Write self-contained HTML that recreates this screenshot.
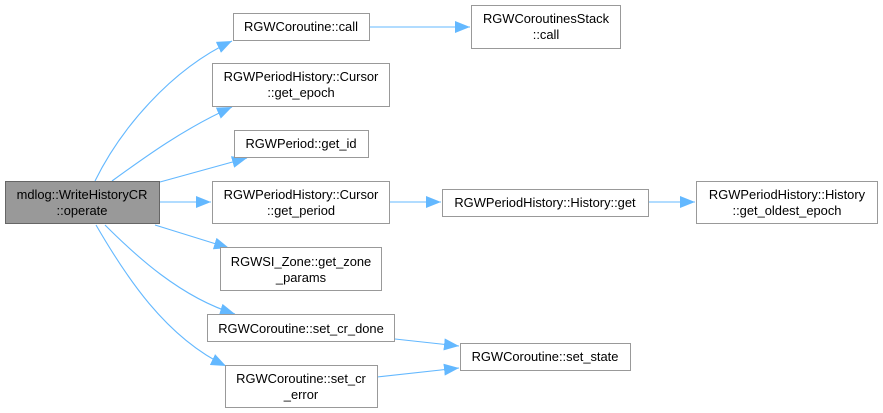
<!DOCTYPE html>
<html><head><meta charset="utf-8"><style>
html,body{margin:0;padding:0;background:#fff;}
svg{display:block;}
text{font-family:"Liberation Sans",Arial,sans-serif;font-size:12.9px;fill:#000;}
</style></head><body>
<svg width="883" height="413" viewBox="0 0 883 413" xmlns="http://www.w3.org/2000/svg">
<defs>
<marker id="a" markerUnits="userSpaceOnUse" markerWidth="16" markerHeight="12" refX="15" refY="6" orient="auto">
<path d="M0,0 L15,6 L0,12 Z" fill="#63b8ff"/>
</marker>
</defs>
<g fill="none" stroke="#63b8ff" stroke-width="1.1" marker-end="url(#a)">
<path d="M95,181 C120,130 170,70 232,41"/>
<path d="M112,181 C145,157 185,128 232,107"/>
<path d="M160,182 L247,158"/>
<path d="M160,202 L211,202"/>
<path d="M155,225 L229,248"/>
<path d="M105,225 C135,255 180,297 235,314"/>
<path d="M96,225 C125,275 165,337 226,366"/>
<path d="M369,27 L470,27"/>
<path d="M390,202 L441,202"/>
<path d="M649,202 L695,202"/>
<path d="M395,339 L459,346"/>
<path d="M377,377 L459,368"/>
</g>
<g stroke="#999" stroke-width="1" fill="#fff">
<rect x="5.5" y="181.5" width="154" height="42" fill="#999" stroke="#666"/>
<rect x="233.5" y="13.5" width="136" height="27"/>
<rect x="212.5" y="63.5" width="177" height="43"/>
<rect x="234.5" y="130.5" width="134" height="27"/>
<rect x="212.5" y="181.5" width="177" height="42"/>
<rect x="220.5" y="247.5" width="161" height="43"/>
<rect x="207.5" y="314.5" width="187" height="27"/>
<rect x="225.5" y="365.5" width="152" height="42"/>
<rect x="471.5" y="5.5" width="149" height="43"/>
<rect x="442.5" y="189.5" width="206" height="27"/>
<rect x="696.5" y="181.5" width="181" height="42"/>
<rect x="460.5" y="343.5" width="170" height="27"/>
</g>
<g text-anchor="middle">
<text x="82" y="199">mdlog::WriteHistoryCR</text>
<text x="82" y="215">::operate</text>
<text x="301" y="31">RGWCoroutine::call</text>
<text x="301" y="81">RGWPeriodHistory::Cursor</text>
<text x="301" y="97">::get_epoch</text>
<text x="301" y="148">RGWPeriod::get_id</text>
<text x="301" y="199">RGWPeriodHistory::Cursor</text>
<text x="301" y="215">::get_period</text>
<text x="301" y="266">RGWSI_Zone::get_zone</text>
<text x="301" y="282">_params</text>
<text x="301" y="333">RGWCoroutine::set_cr_done</text>
<text x="301" y="383">RGWCoroutine::set_cr</text>
<text x="301" y="399">_error</text>
<text x="546" y="23">RGWCoroutinesStack</text>
<text x="546" y="39">::call</text>
<text x="545" y="207">RGWPeriodHistory::History::get</text>
<text x="787" y="199">RGWPeriodHistory::History</text>
<text x="787" y="215">::get_oldest_epoch</text>
<text x="545" y="361">RGWCoroutine::set_state</text>
</g>
</svg>
</body></html>
